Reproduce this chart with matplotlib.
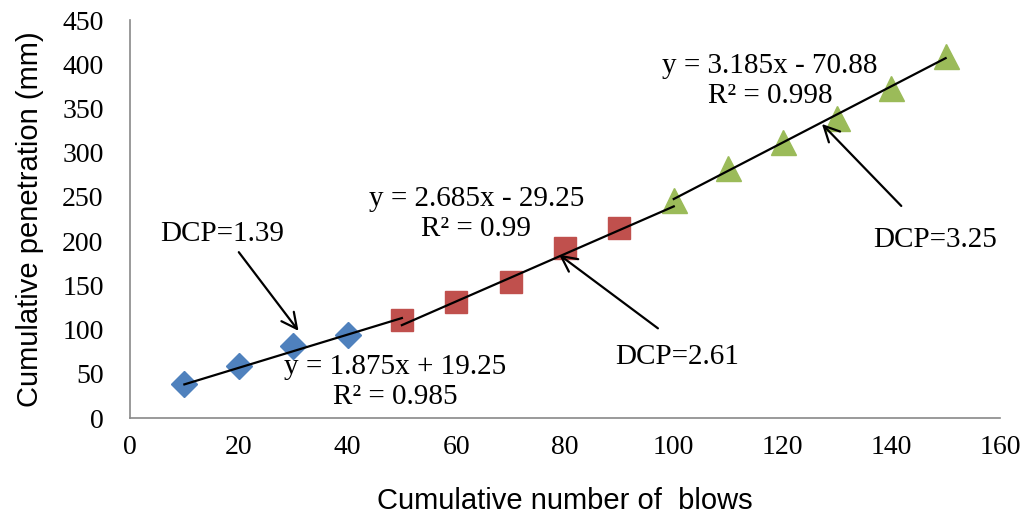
import matplotlib
matplotlib.use("Agg")
import matplotlib.pyplot as plt
import numpy as np

# Data
blue_x = [10, 20, 30, 40]
blue_y = [39, 59, 81, 94]
red_x = [50, 60, 70, 80, 90]
red_y = [111, 131, 154, 192, 215]
green_x = [100, 110, 120, 130, 140, 150]
green_y = [246, 283, 312, 339, 373, 409]

# Trendline equations (slope, intercept) and x ranges
trend_blue = (1.875, 19.25, 10, 50)
trend_red = (2.685, -29.25, 50, 100)
trend_green = (3.185, -70.88, 100, 150)

x_ticks = [0, 20, 40, 60, 80, 100, 120, 140, 160]
y_ticks = [0, 50, 100, 150, 200, 250, 300, 350, 400, 450]

serif = ['Liberation Serif', 'DejaVu Serif']
sans = ['Liberation Sans', 'DejaVu Sans']

fig = plt.figure(figsize=(10.26, 5.21), dpi=100)
ax = fig.add_axes([130/1026, (521-418)/521, 870/1026, 398/521])

for (m, b, x0, x1) in [trend_blue, trend_red, trend_green]:
    xs = np.array([x0, x1])
    ax.plot(xs, m*xs + b, color='black', lw=1.6, zorder=3)

ax.plot(blue_x, blue_y, 'D', color='#4F81BD', ms=13, mec='#4F81BD', zorder=2)
ax.plot(red_x, red_y, 's', color='#C0504D', ms=16, mec='#C0504D', zorder=2)
ax.plot(green_x, green_y, '^', color='#9BBB59', ms=18, mec='#9BBB59', zorder=2)

ax.set_xlim(0, 160)
ax.set_ylim(0, 450)
ax.set_xticks(x_ticks)
ax.set_yticks(y_ticks)
ax.tick_params(length=0, labelsize=20)
ax.tick_params(axis='y', pad=19)
ax.tick_params(axis='x', pad=12)
for lab in ax.get_xticklabels() + ax.get_yticklabels():
    lab.set_family(serif)
ax.spines['top'].set_visible(False)
ax.spines['right'].set_visible(False)
for s in ('left', 'bottom'):
    ax.spines[s].set_color('#898989')
    ax.spines[s].set_linewidth(1.2)

ax.set_xlabel('Cumulative number of  blows', fontsize=21, family=sans, labelpad=20)
ax.set_ylabel('Cumulative penetration (mm)', fontsize=21, family=sans, labelpad=13)

eq_kw = dict(fontsize=21, family=serif, ha='center', va='center', linespacing=1.2)
ax.text(48.8, 40.7, 'y = 1.875x + 19.25\nR² = 0.985', **eq_kw)
ax.text(63.7, 230.7, 'y = 2.685x - 29.25\nR² = 0.99', **eq_kw)
ax.text(117.7, 381, 'y = 3.185x - 70.88\nR² = 0.998', **eq_kw)

lab_kw = dict(fontsize=21, family=serif, ha='center', va='center')
arrow = dict(arrowstyle='->', color='black', lw=1.6, mutation_scale=28)
ax.text(16.9, 208, 'DCP=1.39', **lab_kw)
ax.annotate('', xy=(31.3, 96), xytext=(19.7, 190), arrowprops=arrow)
ax.text(100.6, 69, 'DCP=2.61', **lab_kw)
ax.annotate('', xy=(78.5, 186.6), xytext=(97.5, 99.5), arrowprops=arrow)
ax.text(148, 201, 'DCP=3.25', **lab_kw)
ax.annotate('', xy=(126.9, 334.7), xytext=(142.2, 237.5), arrowprops=arrow)

fig.savefig('out.png', dpi=100)
